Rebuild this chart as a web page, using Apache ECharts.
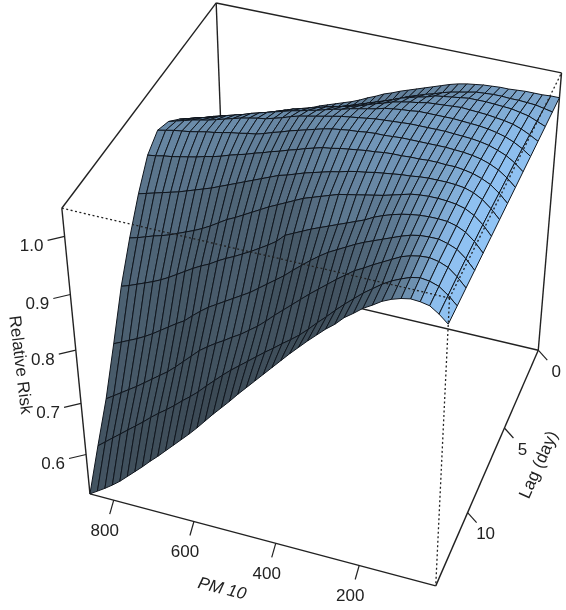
<!DOCTYPE html>
<html>
<head>
<meta charset="utf-8">
<style>html,body{margin:0;padding:0;background:#fff}#chart{width:566px;height:610px}</style>
<script src="https://cdn.jsdelivr.net/npm/echarts@6/dist/echarts.min.js"></script>
</head>
<body>
<div id="chart"></div>
<script>
// axis values of the surface
var pm10Values = [20,40,60,80,100,120,140,160,180,200,220,240,260,280,300,320,340,360,380,400,420,440,460,480,500,520,540,560,580,600,620,640,660,680,700,720,740,760,780,800,820,840,860];
var lagValues = [0,1,2,3,4,5,6,7,8,9,10,11,12,13,14];

// relative risk per lag day, one value per pm10Values entry
var rrLag0 = [1.004,1.004,1.003,1.003,1.003,1.002,1.001,1.001,1.0,.999,.997,.995,.992,.988,.983,.978,.973,.968,.963,.958,.952,.947,.94,.934,.927,.921,.916,.911,.906,.901,.895,.889,.883,.877,.873,.867,.861,.855,.85,.845,.84,.835,.83];
var rrLag1 = [1.004,1.007,1.01,1.011,1.012,1.012,1.013,1.013,1.012,1.011,1.008,1.005,1.002,.998,.993,.989,.984,.979,.973,.967,.961,.955,.95,.945,.94,.935,.93,.926,.921,.916,.91,.905,.899,.894,.89,.886,.882,.878,.873,.868,.863,.858,.853];
var rrLag2 = [1.004,1.01,1.016,1.019,1.022,1.023,1.024,1.025,1.025,1.025,1.023,1.021,1.019,1.017,1.012,1.009,1.005,1.001,.995,.99,.985,.98,.975,.97,.965,.961,.956,.951,.946,.941,.936,.931,.926,.922,.918,.914,.91,.906,.902,.898,.894,.89,.885];
var rrLag3 = [1.004,1.012,1.019,1.024,1.027,1.029,1.031,1.032,1.033,1.034,1.033,1.032,1.031,1.03,1.027,1.025,1.022,1.019,1.014,1.01,1.005,1.0,.996,.993,.989,.986,.982,.978,.974,.97,.965,.96,.954,.949,.943,.94,.937,.933,.93,.926,.921,.917,.913];
var rrLag4 = [1.004,1.014,1.022,1.028,1.032,1.035,1.037,1.038,1.039,1.04,1.04,1.04,1.04,1.04,1.038,1.037,1.035,1.033,1.029,1.026,1.023,1.02,1.016,1.013,1.009,1.005,1.002,.998,.995,.991,.987,.983,.979,.975,.97,.966,.962,.957,.952,.949,.945,.941,.937];
var rrLag5 = [1.004,1.016,1.025,1.031,1.036,1.039,1.041,1.042,1.043,1.044,1.044,1.044,1.044,1.044,1.043,1.042,1.041,1.04,1.038,1.036,1.034,1.032,1.029,1.026,1.023,1.02,1.017,1.013,1.008,1.004,1.0,.998,.995,.992,.988,.984,.98,.976,.973,.97,.966,.962,.958];
var rrLag6 = [1.004,1.017,1.027,1.034,1.039,1.042,1.044,1.045,1.046,1.046,1.046,1.046,1.046,1.046,1.045,1.044,1.044,1.043,1.041,1.04,1.038,1.036,1.033,1.029,1.025,1.021,1.017,1.012,1.008,1.003,.999,.997,.994,.992,.989,.986,.984,.981,.978,.976,.974,.971,.968];
var rrLag7 = [1.004,1.018,1.029,1.036,1.041,1.044,1.046,1.046,1.047,1.047,1.046,1.046,1.045,1.045,1.044,1.042,1.041,1.039,1.037,1.035,1.032,1.03,1.026,1.022,1.017,1.013,1.008,1.004,.999,.995,.99,.986,.982,.977,.973,.97,.966,.963,.96,.957,.955,.952,.95];
var rrLag8 = [1.004,1.019,1.031,1.039,1.044,1.046,1.047,1.047,1.047,1.046,1.044,1.043,1.041,1.039,1.037,1.034,1.032,1.029,1.025,1.022,1.018,1.014,1.01,1.005,1.0,.996,.99,.984,.978,.972,.966,.96,.954,.948,.943,.938,.933,.928,.924,.92,.916,.912,.908];
var rrLag9 = [1.004,1.02,1.032,1.04,1.044,1.046,1.047,1.047,1.046,1.044,1.04,1.036,1.032,1.029,1.026,1.023,1.02,1.017,1.012,1.007,1.002,.997,.99,.983,.976,.969,.961,.953,.945,.937,.93,.921,.912,.904,.897,.891,.885,.879,.874,.87,.865,.86,.856];
var rrLag10 = [1.004,1.02,1.032,1.039,1.043,1.044,1.044,1.043,1.041,1.038,1.034,1.029,1.023,1.015,1.009,1.003,.997,.991,.985,.979,.972,.965,.958,.944,.934,.925,.916,.908,.9,.893,.885,.876,.869,.861,.852,.843,.834,.826,.819,.813,.807,.801,.796];
var rrLag11 = [1.004,1.02,1.032,1.038,1.042,1.042,1.041,1.038,1.033,1.027,1.021,1.015,1.009,1.002,.994,.986,.978,.968,.957,.945,.933,.92,.909,.898,.887,.876,.867,.858,.849,.84,.831,.82,.808,.795,.786,.776,.766,.756,.747,.739,.732,.725,.718];
var rrLag12 = [1.004,1.019,1.031,1.037,1.04,1.039,1.036,1.031,1.023,1.015,1.007,.998,.99,.979,.968,.956,.944,.932,.919,.906,.893,.88,.866,.853,.842,.831,.822,.812,.803,.793,.782,.768,.754,.74,.727,.716,.705,.694,.683,.673,.663,.653,.643];
var rrLag13 = [1.004,1.018,1.029,1.034,1.036,1.033,1.027,1.02,1.011,1.0,.989,.976,.963,.949,.934,.92,.905,.891,.879,.868,.856,.845,.833,.821,.809,.797,.784,.77,.756,.741,.728,.716,.703,.691,.68,.668,.655,.643,.631,.619,.607,.595,.583];
var rrLag14 = [1.004,1.017,1.027,1.03,1.031,1.028,1.023,1.016,1.006,.997,.985,.974,.959,.947,.933,.919,.904,.889,.873,.857,.841,.825,.809,.793,.776,.76,.744,.727,.71,.694,.679,.664,.649,.634,.62,.605,.591,.577,.563,.551,.54,.53,.52];
var rrByLag = [rrLag0,rrLag1,rrLag2,rrLag3,rrLag4,rrLag5,rrLag6,rrLag7,rrLag8,rrLag9,rrLag10,rrLag11,rrLag12,rrLag13,rrLag14];

// tick labels
var pm10Ticks = [200,400,600,800];
var lagTicks = [0,5,10];
var rrTicks = [0.6,0.7,0.8,0.9,1.0];

// extent of the box
var pmMin = 20, pmMax = 860, lagMin = 0, lagMax = 14, rrMin = 0.52, rrMax = 1.047;

// camera: where the box corners land in the window, solved to a perspective matrix below
var cameraCorners = [
    [0, 1, 0, 436, 586],
    [0, 1, 1, 449, 298],
    [1, 1, 0, 90, 494],
    [1, 1, 1, 62, 208],
    [0, 0, 0, 538, 350],
    [0, 0, 1, 562, 73],
    [1, 0, 1, 216, 3]
];

function solveCamera(corners) {
    var n = 11, ata = [], atb = [], i, j, k;
    for (i = 0; i < n; i++) {
        ata.push([0,0,0,0,0,0,0,0,0,0,0]);
        atb.push(0);
    }
    function addRow(row, rhs) {
        for (var a = 0; a < n; a++) {
            atb[a] += row[a] * rhs;
            for (var b = 0; b < n; b++) ata[a][b] += row[a] * row[b];
        }
    }
    corners.forEach(function (c) {
        addRow([c[0], c[1], c[2], 1, 0, 0, 0, 0, -c[3] * c[0], -c[3] * c[1], -c[3] * c[2]], c[3]);
        addRow([0, 0, 0, 0, c[0], c[1], c[2], 1, -c[4] * c[0], -c[4] * c[1], -c[4] * c[2]], c[4]);
    });
    // gauss elimination
    for (i = 0; i < n; i++) {
        var best = i;
        for (j = i + 1; j < n; j++) if (Math.abs(ata[j][i]) > Math.abs(ata[best][i])) best = j;
        var t = ata[i]; ata[i] = ata[best]; ata[best] = t;
        t = atb[i]; atb[i] = atb[best]; atb[best] = t;
        for (j = i + 1; j < n; j++) {
            var f = ata[j][i] / ata[i][i];
            for (k = i; k < n; k++) ata[j][k] -= f * ata[i][k];
            atb[j] -= f * atb[i];
        }
    }
    var p = [];
    for (i = n - 1; i >= 0; i--) {
        var s = atb[i];
        for (k = i + 1; k < n; k++) s -= ata[i][k] * p[k];
        p[i] = s / ata[i][i];
    }
    return p;
}
var cam = solveCamera(cameraCorners);

function unitU(pm) { return (pm - pmMin) / (pmMax - pmMin); }
function unitV(lag) { return (lag - lagMin) / (lagMax - lagMin); }
function unitW(rr) { return (rr - rrMin) / (rrMax - rrMin); }

// data values to window pixels
function project(pm, lag, rr) {
    var u = unitU(pm), v = unitV(lag), w = unitW(rr);
    var d = cam[8] * u + cam[9] * v + cam[10] * w + 1;
    return [(cam[0] * u + cam[1] * v + cam[2] * w + cam[3]) / d, (cam[4] * u + cam[5] * v + cam[6] * w + cam[7]) / d];
}

// persp() style shading, shadows go a bit grey
var baseColor = [147, 199, 250];
var lightDir = [-0.8, -0.18, 0.57];
var shadePower = 0.85;

// slope over a few neighbouring cells, so small reading errors do not show as bands
function cellColor(col, row) {
    var c0 = Math.max(col - 2, 0), c1 = Math.min(col + 3, pm10Values.length - 1);
    var r0 = Math.max(row - 1, 0), r1 = Math.min(row + 2, lagValues.length - 1);
    var sx = (unitW(rrByLag[row][c1]) + unitW(rrByLag[row + 1][c1]) - unitW(rrByLag[row][c0]) - unitW(rrByLag[row + 1][c0])) / 2 / (unitU(pm10Values[c1]) - unitU(pm10Values[c0]));
    var sy = (unitW(rrByLag[r1][col]) + unitW(rrByLag[r1][col + 1]) - unitW(rrByLag[r0][col]) - unitW(rrByLag[r0][col + 1])) / 2 / (unitV(lagValues[r1]) - unitV(lagValues[r0]));
    var len = Math.sqrt(sx * sx + sy * sy + 1);
    var d = (-sx * lightDir[0] - sy * lightDir[1] + lightDir[2]) / len;
    var f = Math.pow((1 + d) / 2, shadePower);
    return 'rgb(' + Math.round(baseColor[0] * f) + ',' + Math.round(baseColor[1] * Math.pow(f, 1.1)) + ',' + Math.round(baseColor[2] * Math.pow(f, 1.2)) + ')';
}

// cells far to near, so the near ones cover the far ones
var cellData = [];
for (var r = 0; r < lagValues.length - 1; r++) {
    for (var c = pm10Values.length - 2; c >= 0; c--) {
        cellData.push([c, r]);
    }
}

function renderCell(params, api) {
    var c = api.value(0), r = api.value(1);
    var corners = [[c, r], [c + 1, r], [c + 1, r + 1], [c, r + 1]].map(function (q) {
        return api.coord(project(pm10Values[q[0]], lagValues[q[1]], rrByLag[q[1]][q[0]]));
    });
    return {
        type: 'polygon',
        shape: { points: corners },
        style: { fill: cellColor(c, r), stroke: '#10161e', lineWidth: 1 }
    };
}

function edge(a, b) { return [a[0], a[1], a[2], b[0], b[1], b[2]]; }
var cornerA = [pmMax, lagMax, rrMax], cornerA0 = [pmMax, lagMax, rrMin];
var cornerB = [pmMax, lagMin, rrMax], cornerB0 = [pmMax, lagMin, rrMin];
var cornerC = [pmMin, lagMin, rrMax], cornerC0 = [pmMin, lagMin, rrMin];
var cornerD = [pmMin, lagMax, rrMax], cornerD0 = [pmMin, lagMax, rrMin];

var solidEdges = [edge(cornerA, cornerA0), edge(cornerA, cornerB), edge(cornerB, cornerC), edge(cornerB, cornerB0),
    edge(cornerB0, cornerC0), edge(cornerB0, cornerA0), edge(cornerC, cornerC0), edge(cornerA0, cornerD0), edge(cornerC0, cornerD0)];
var dottedEdges = [edge(cornerA, cornerD), edge(cornerD, cornerC), edge(cornerD, cornerD0)];

function renderEdge(dash) {
    return function (params, api) {
        var p0 = api.coord(project(api.value(0), api.value(1), api.value(2)));
        var p1 = api.coord(project(api.value(3), api.value(4), api.value(5)));
        return {
            type: 'line',
            shape: { x1: p0[0], y1: p0[1], x2: p1[0], y2: p1[1] },
            style: { stroke: '#222', lineWidth: dash ? 1.3 : 1.4, lineDash: dash ? [2, 2.5] : null }
        };
    };
}

// tick mark plus label; dx,dy is the tick, lx,ly the label offset from the axis
function renderTick(place, dx, dy, lx, ly, fmt) {
    return function (params, api) {
        var v = api.value(0);
        var p = api.coord(place(v));
        return {
            type: 'group',
            children: [
                { type: 'line', shape: { x1: p[0], y1: p[1], x2: p[0] + dx, y2: p[1] + dy }, style: { stroke: '#222', lineWidth: 1.2 } },
                { type: 'text', x: p[0] + lx, y: p[1] + ly, style: { text: fmt(v), fill: '#222', font: '17px "Liberation Sans"', align: 'center', verticalAlign: 'middle' } }
            ]
        };
    };
}

function tickSeries(values, place, dx, dy, lx, ly, fmt) {
    return {
        type: 'custom', coordinateSystem: 'cartesian2d', silent: true, z: 5, clip: false,
        data: values.map(function (v) { return [v]; }),
        encode: { x: 0 },
        renderItem: renderTick(place, dx, dy, lx, ly, fmt)
    };
}

function titleText(text, x, y, angle, font) {
    return { type: 'text', x: x, y: y, rotation: angle * Math.PI / 180, style: { text: text, fill: '#222', font: font, align: 'center', verticalAlign: 'middle' }, silent: true };
}

var myChart = echarts.init(document.getElementById('chart'));

var option = {
    animation: false,
    backgroundColor: '#fff',
    grid: { left: 0, right: 0, top: 0, bottom: 0 },
    xAxis: { type: 'value', min: 0, max: 566, show: false },
    yAxis: { type: 'value', min: 0, max: 610, inverse: true, show: false },
    graphic: [
        titleText('Relative Risk', 20, 365, -83, '17px "Liberation Sans"'),
        titleText('PM 10', 222, 589, -14, 'italic 17px "Liberation Sans"'),
        titleText('Lag (day)', 539, 465, 66, '17px "Liberation Sans"')
    ],
    series: [
        { type: 'custom', coordinateSystem: 'cartesian2d', silent: true, z: 1, clip: false, data: solidEdges, encode: { x: 0, y: 1 }, renderItem: renderEdge(false) },
        { type: 'custom', coordinateSystem: 'cartesian2d', silent: true, z: 2, clip: false, progressive: 0, data: cellData, encode: { x: 0, y: 1 }, renderItem: renderCell },
        { type: 'custom', coordinateSystem: 'cartesian2d', silent: true, z: 3, clip: false, data: dottedEdges, encode: { x: 0, y: 1 }, renderItem: renderEdge(true) },
        tickSeries(rrTicks, function (v) { return project(pmMax, lagMax, v); }, -17, 4, -33, 10, function (v) { return v.toFixed(1); }),
        tickSeries(pm10Ticks, function (v) { return project(v, lagMax, rrMin); }, -4, 14, -9, 31, String),
        tickSeries(lagTicks, function (v) { return project(pmMin, v, rrMin); }, 9, 10, 18, 22, String)
    ]
};

myChart.setOption(option);
</script>
</body>
</html>
